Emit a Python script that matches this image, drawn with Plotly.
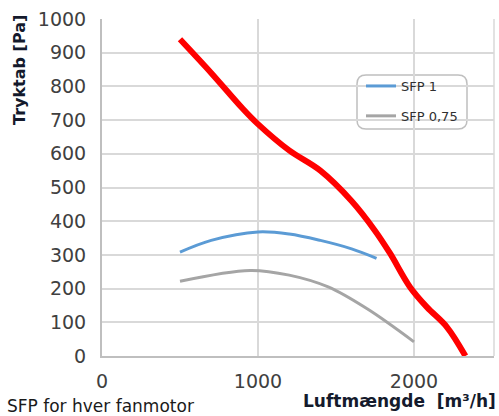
import plotly.graph_objects as go

# Data
red_x = [500, 700, 900, 1000, 1200, 1400, 1600, 1750, 1846, 1974, 2083, 2211, 2330]
red_y = [940, 840, 735, 688, 610, 550, 460, 372, 305, 205, 145, 86, 0]

sfp1_x = [500, 700, 1000, 1200, 1400, 1600, 1760]
sfp1_y = [308, 343, 368, 362, 343, 318, 290]

sfp075_x = [500, 950, 1200, 1450, 1700, 2000]
sfp075_y = [222, 254, 240, 205, 140, 42]

x_ticks = [0, 1000, 2000]
y_ticks = [0, 100, 200, 300, 400, 500, 600, 700, 800, 900, 1000]

FONT = "DejaVu Sans"
TICK_COLOR = "#404040"
TITLE_COLOR = "#141a2c"

fig = go.Figure()
fig.add_trace(go.Scatter(x=red_x, y=red_y, mode="lines", line=dict(color="#ff0000", width=6, shape="spline"),
                         showlegend=False, name="Fan"))
fig.add_trace(go.Scatter(x=sfp1_x, y=sfp1_y, mode="lines", line=dict(color="#5b9bd5", width=3, shape="spline"),
                         name="SFP 1", legendgroup="a"))
fig.add_trace(go.Scatter(x=sfp075_x, y=sfp075_y, mode="lines", line=dict(color="#a5a5a5", width=3, shape="spline"),
                         name="SFP 0,75", legendgroup="b"))

W, H = 499, 416
L, R, T, B = 102, 5, 19, 60
pw, ph = W - L - R, H - T - B

def px(xp):
    return (xp - L) / pw

def py(yp):
    return (H - B - yp) / ph

# rounded legend box
x0, x1, y0, y1 = px(357), px(467), py(129), py(75)
rx, ry = 9 / pw, 9 / ph
path = (f"M {x0+rx},{y1} L {x1-rx},{y1} Q {x1},{y1} {x1},{y1-ry} L {x1},{y0+ry} Q {x1},{y0} {x1-rx},{y0} "
        f"L {x0+rx},{y0} Q {x0},{y0} {x0},{y0+ry} L {x0},{y1-ry} Q {x0},{y1} {x0+rx},{y1} Z")

fig.update_layout(
    width=W, height=H,
    margin=dict(l=L, r=R, t=T, b=B),
    paper_bgcolor="white", plot_bgcolor="white",
    font=dict(family=FONT, color=TICK_COLOR),
    legend=dict(x=px(361), y=py(71), xanchor="left", yanchor="top",
                bgcolor="rgba(255,255,255,0)", borderwidth=0,
                font=dict(family=FONT, size=13, color="#303030"),
                traceorder="grouped", tracegroupgap=10),
    shapes=[
        dict(type="path", xref="paper", yref="paper", path=path,
             line=dict(color="#bfbfbf", width=1.5), fillcolor="white", layer="below"),
        dict(type="line", xref="paper", yref="paper", x0=1, x1=1, y0=0, y1=1,
             line=dict(color="#d9d9d9", width=1.5), layer="below"),
    ],
    annotations=[
        dict(text="<b>Tryktab [Pa]</b>", xref="paper", yref="paper", x=px(19), y=py(70),
             textangle=-90, showarrow=False, font=dict(family=FONT, size=16, color=TITLE_COLOR),
             xanchor="center", yanchor="middle"),
        dict(text="<b>Luftmængde  [m³/h]</b>", xref="paper", yref="paper", x=px(498), y=py(401),
             showarrow=False, font=dict(family=FONT, size=17, color=TITLE_COLOR),
             xanchor="right", yanchor="middle"),
        dict(text="SFP for hver fanmotor", xref="paper", yref="paper", x=px(5), y=py(406),
             showarrow=False, font=dict(family=FONT, size=17, color="#1a1a1a"),
             xanchor="left", yanchor="middle"),
    ],
)

fig.update_xaxes(range=[0, 2513], tickvals=x_ticks, ticktext=[str(v) for v in x_ticks],
                 showgrid=True, gridcolor="#d9d9d9", gridwidth=1.5,
                 showline=True, linecolor="#bfbfbf", linewidth=2,
                 ticks="outside", ticklen=7, tickcolor="rgba(0,0,0,0)",
                 tickfont=dict(family=FONT, size=19, color=TICK_COLOR), zeroline=False)
fig.update_yaxes(range=[0, 1000], tickvals=y_ticks, ticktext=[str(v) for v in y_ticks],
                 showgrid=True, gridcolor="#d9d9d9", gridwidth=1.5,
                 showline=True, linecolor="#bfbfbf", linewidth=2,
                 ticks="outside", ticklen=10, tickcolor="rgba(0,0,0,0)",
                 tickfont=dict(family=FONT, size=19, color=TICK_COLOR), zeroline=False)

fig.write_html("out.html", config={"displayModeBar": False},
               post_script="document.body.style.margin='0';document.body.style.overflow='hidden';")
